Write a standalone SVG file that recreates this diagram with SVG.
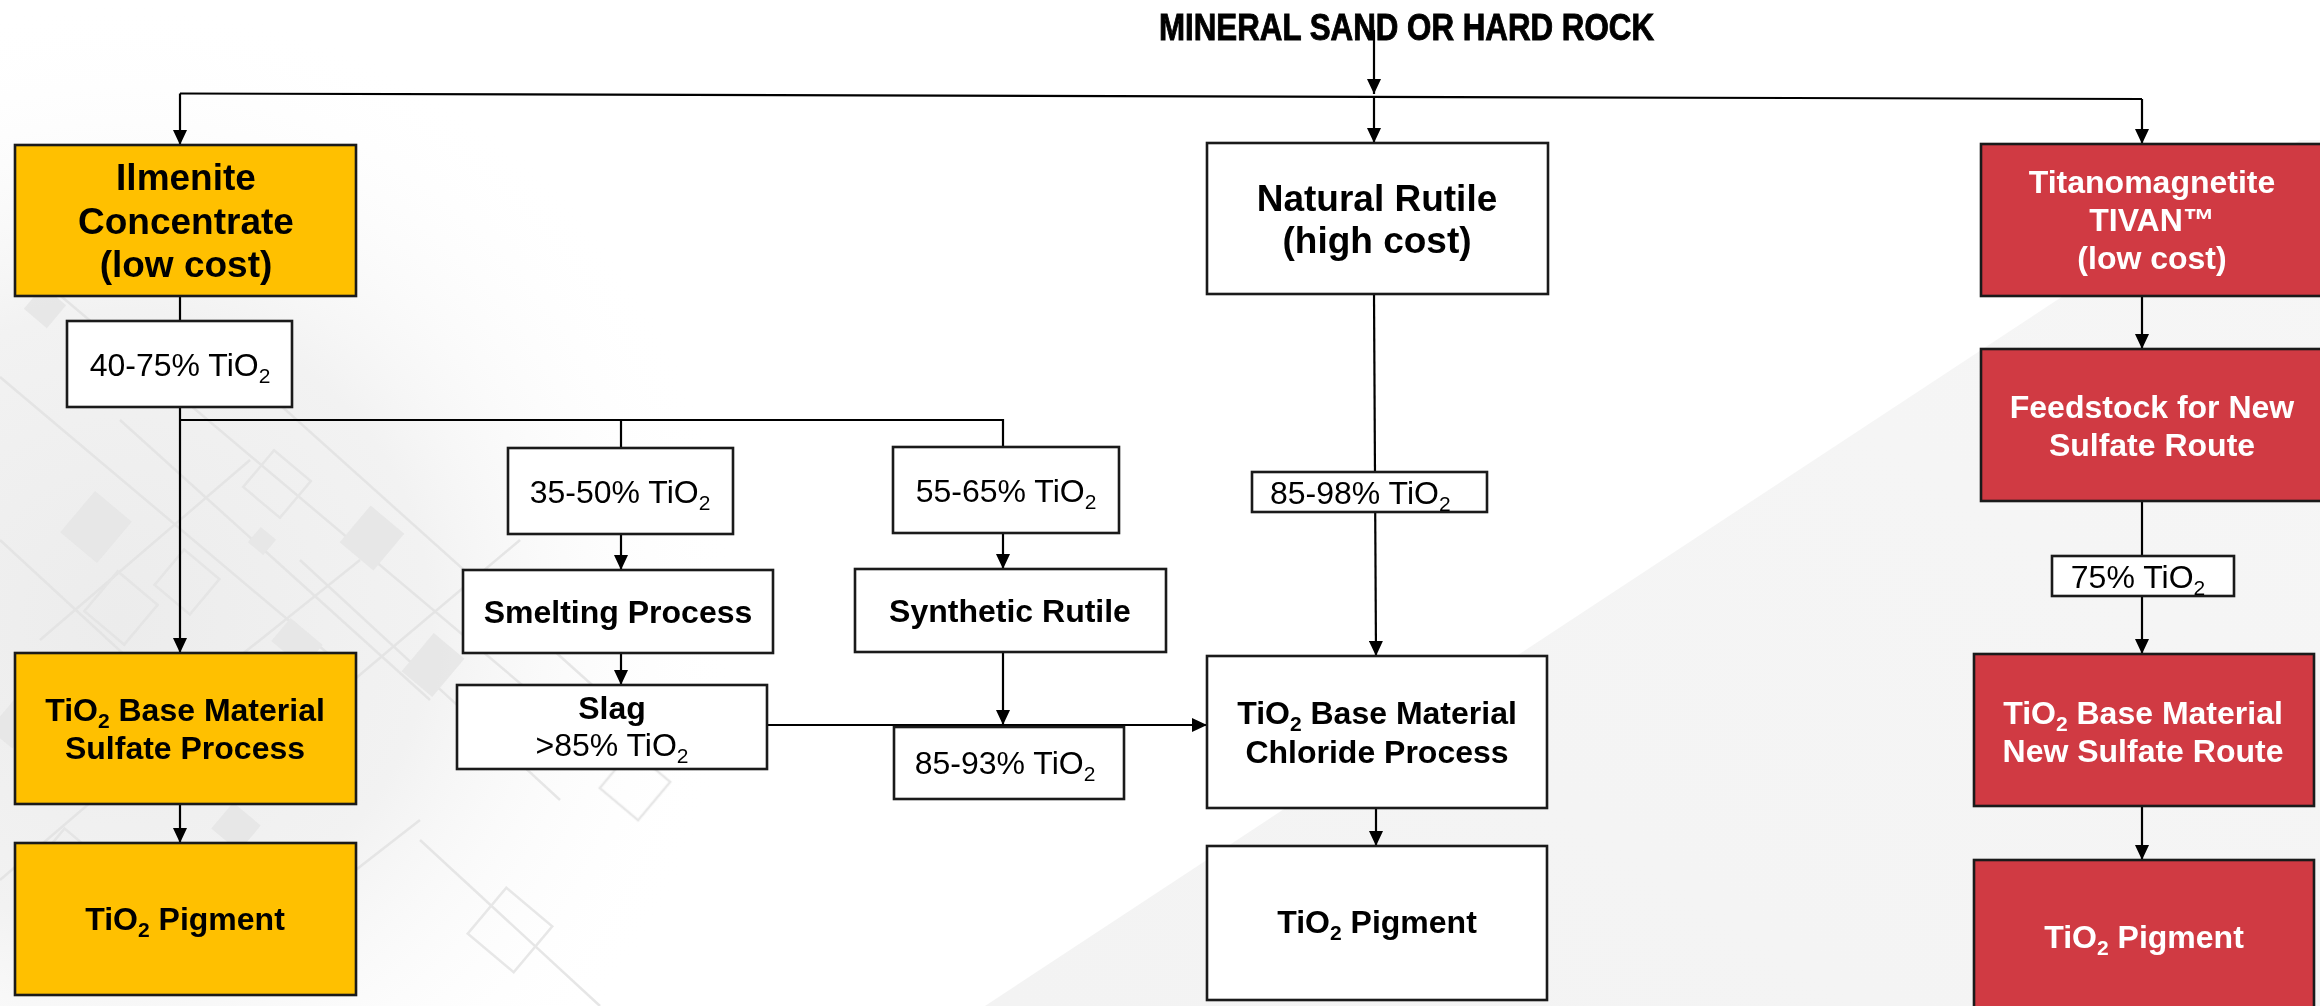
<svg xmlns="http://www.w3.org/2000/svg" width="2320" height="1006" viewBox="0 0 2320 1006">
  <defs>
    <style>
      text { font-family: "Liberation Sans", Arial, sans-serif; fill: #000; text-anchor: middle; }
      .big { font-size: 37px; font-weight: bold; }
      .bold { font-size: 32px; font-weight: bold; }
      .pct { font-size: 32px; }
      .white { fill: #fff; }
      .sub { font-size: 21px; }
      .box { stroke: #1a1a1a; stroke-width: 2.6; }
      .plain { fill: #fff; }
      .gold { fill: #FFC000; }
      .red { fill: #D03A43; }
      .wire { fill: none; stroke: #000; stroke-width: 2.2; }
      .arrow { fill: none; stroke: #000; stroke-width: 2.2; marker-end: url(#head); }
      .trace { fill: none; stroke: #e2e2e2; stroke-width: 2.5; }
      .pad { fill: none; stroke: #e3e3e3; stroke-width: 2.5; }
      .chip { fill: #e5e5e5; }
    </style>
    <marker id="head" viewBox="0 0 15 14" refX="15" refY="7" markerWidth="15" markerHeight="14" markerUnits="userSpaceOnUse" orient="auto">
      <path d="M0,0 L15,7 L0,14 z" fill="#000"/>
    </marker>
    <radialGradient id="leftHaze" gradientUnits="userSpaceOnUse" cx="120" cy="620" r="620">
      <stop offset="0" stop-color="#ececec"/>
      <stop offset="0.5" stop-color="#f2f2f2"/>
      <stop offset="1" stop-color="#ffffff" stop-opacity="0"/>
    </radialGradient>
    <linearGradient id="rightHaze" x1="0" y1="1" x2="1" y2="0">
      <stop offset="0" stop-color="#f3f3f3"/>
      <stop offset="1" stop-color="#f6f6f6"/>
    </linearGradient>
  </defs>

  <!-- page background with faint circuit-board decoration -->
  <g id="backdrop">
    <rect x="0" y="0" width="2320" height="1006" fill="#fff"/>
    <rect x="0" y="0" width="900" height="1006" fill="url(#leftHaze)"/>
    <polygon points="985,1006 2300,140 2320,140 2320,1006" fill="url(#rightHaze)"/>
    <g opacity="0.85">
      <line class="trace" x1="0" y1="377" x2="357" y2="678"/>
      <line class="trace" x1="30" y1="270" x2="540" y2="700"/>
      <line class="trace" x1="120" y1="420" x2="430" y2="700"/>
      <line class="trace" x1="230" y1="360" x2="620" y2="710"/>
      <line class="trace" x1="0" y1="540" x2="260" y2="780"/>
      <line class="trace" x1="300" y1="560" x2="560" y2="800"/>
      <line class="trace" x1="420" y1="840" x2="600" y2="1006"/>
      <line class="trace" x1="40" y1="640" x2="250" y2="460"/>
      <line class="trace" x1="160" y1="720" x2="360" y2="560"/>
      <line class="trace" x1="330" y1="700" x2="520" y2="540"/>
      <line class="trace" x1="0" y1="880" x2="140" y2="760"/>
      <line class="trace" x1="240" y1="960" x2="420" y2="820"/>
      <rect class="pad" x="253" y="460" width="48" height="48" transform="rotate(40 277 484)"/>
      <rect class="pad" x="95" y="582" width="52" height="52" transform="rotate(40 121 608)"/>
      <rect class="pad" x="164" y="559" width="46" height="46" transform="rotate(40 187 582)"/>
      <rect class="pad" x="480" y="900" width="60" height="60" transform="rotate(40 510 930)"/>
      <rect class="pad" x="40" y="840" width="56" height="56" transform="rotate(40 68 868)"/>
      <rect class="pad" x="610" y="760" width="50" height="50" transform="rotate(40 635 785)"/>
      <rect class="chip" x="72" y="500" width="48" height="54" transform="rotate(40 96 527)"/>
      <rect class="chip" x="350" y="514" width="44" height="48" transform="rotate(40 372 538)"/>
      <rect class="chip" x="252" y="531" width="20" height="20" transform="rotate(40 262 541)"/>
      <rect class="chip" x="276" y="628" width="42" height="30" transform="rotate(40 297 643)"/>
      <rect class="chip" x="413" y="640" width="40" height="50" transform="rotate(40 433 665)"/>
      <rect class="chip" x="218" y="810" width="36" height="34" transform="rotate(40 236 827)"/>
      <rect class="chip" x="30" y="292" width="30" height="30" transform="rotate(40 45 307)"/>
      <rect class="chip" x="0" y="700" width="30" height="44" transform="rotate(40 15 722)"/>
    </g>
  </g>

  <!-- title -->
  <text id="title" x="1159" y="40" style="text-anchor:start;font-size:36px;font-weight:bold;stroke:#000;stroke-width:0.9" textLength="495" lengthAdjust="spacingAndGlyphs">MINERAL SAND OR HARD ROCK</text>

  <!-- connectors -->
  <g id="connectors">
    <line class="arrow" x1="1374" y1="30" x2="1374" y2="94"/>
    <polyline class="wire" points="180,93.5 2142,99"/>
    <line class="arrow" x1="180" y1="93.5" x2="180" y2="145"/>
    <line class="arrow" x1="1374" y1="96" x2="1374" y2="143"/>
    <line class="arrow" x1="2142" y1="99" x2="2142" y2="144"/>

    <line class="wire" x1="180" y1="296" x2="180" y2="321"/>
    <line class="arrow" x1="180" y1="407" x2="180" y2="653"/>
    <polyline class="wire" points="180,420 1003,420 1003,447"/>
    <line class="wire" x1="621" y1="420" x2="621" y2="448"/>
    <line class="arrow" x1="180" y1="804" x2="180" y2="843"/>

    <line class="arrow" x1="621" y1="534" x2="621" y2="570"/>
    <line class="arrow" x1="621" y1="653" x2="621" y2="685"/>
    <line class="arrow" x1="767" y1="725" x2="1207" y2="725"/>

    <line class="arrow" x1="1003" y1="533" x2="1003" y2="569"/>
    <line class="arrow" x1="1003" y1="652" x2="1003" y2="725"/>

    <line class="arrow" x1="1374" y1="294" x2="1376" y2="656"/>
    <line class="arrow" x1="1376" y1="808" x2="1376" y2="846"/>

    <line class="arrow" x1="2142" y1="296" x2="2142" y2="349"/>
    <line class="wire" x1="2142" y1="501" x2="2142" y2="556"/>
    <line class="arrow" x1="2142" y1="596" x2="2142" y2="654"/>
    <line class="arrow" x1="2142" y1="806" x2="2142" y2="860"/>
  </g>

  <!-- ilmenite route -->
  <g id="ilmenite">
    <rect class="box gold" x="15" y="145" width="341" height="151"/>
    <text class="big" x="186" y="190">Ilmenite</text>
    <text class="big" x="186" y="234">Concentrate</text>
    <text class="big" x="186" y="277">(low cost)</text>
  </g>
  <g id="grade-40-75">
    <rect class="box plain" x="67" y="321" width="225" height="86"/>
    <text class="pct" x="180" y="376">40-75% TiO<tspan class="sub" dy="7">2</tspan></text>
  </g>
  <g id="sulfate-base">
    <rect class="box gold" x="15" y="653" width="341" height="151"/>
    <text class="bold" x="185" y="721">TiO<tspan class="sub" dy="7">2</tspan><tspan dy="-7"> Base Material</tspan></text>
    <text class="bold" x="185" y="759">Sulfate Process</text>
  </g>
  <g id="sulfate-pigment">
    <rect class="box gold" x="15" y="843" width="341" height="152"/>
    <text class="bold" x="185" y="930">TiO<tspan class="sub" dy="7">2</tspan><tspan dy="-7"> Pigment</tspan></text>
  </g>

  <!-- smelting branch -->
  <g id="grade-35-50">
    <rect class="box plain" x="508" y="448" width="225" height="86"/>
    <text class="pct" x="620" y="503">35-50% TiO<tspan class="sub" dy="7">2</tspan></text>
  </g>
  <g id="smelting">
    <rect class="box plain" x="463" y="570" width="310" height="83"/>
    <text class="bold" x="618" y="623">Smelting Process</text>
  </g>
  <g id="slag">
    <rect class="box plain" x="457" y="685" width="310" height="84"/>
    <text class="bold" x="612" y="719">Slag</text>
    <text class="pct" x="612" y="756">&gt;85% TiO<tspan class="sub" dy="7">2</tspan></text>
  </g>

  <!-- synthetic rutile branch -->
  <g id="grade-55-65">
    <rect class="box plain" x="893" y="447" width="226" height="86"/>
    <text class="pct" x="1006" y="502">55-65% TiO<tspan class="sub" dy="7">2</tspan></text>
  </g>
  <g id="synthetic-rutile">
    <rect class="box plain" x="855" y="569" width="311" height="83"/>
    <text class="bold" x="1010" y="622">Synthetic Rutile</text>
  </g>
  <g id="grade-85-93">
    <rect class="box plain" x="894" y="727" width="230" height="72"/>
    <text class="pct" x="1005" y="774">85-93% TiO<tspan class="sub" dy="7">2</tspan></text>
  </g>

  <!-- natural rutile route -->
  <g id="natural-rutile">
    <rect class="box plain" x="1207" y="143" width="341" height="151"/>
    <text class="big" x="1377" y="211">Natural Rutile</text>
    <text class="big" x="1377" y="253">(high cost)</text>
  </g>
  <g id="grade-85-98">
    <rect class="box plain" x="1252" y="472" width="235" height="40"/>
    <text class="pct" x="1270" y="504" style="text-anchor:start">85-98% TiO<tspan class="sub" dy="7">2</tspan></text>
  </g>
  <g id="chloride-base">
    <rect class="box plain" x="1207" y="656" width="340" height="152"/>
    <text class="bold" x="1377" y="724">TiO<tspan class="sub" dy="7">2</tspan><tspan dy="-7"> Base Material</tspan></text>
    <text class="bold" x="1377" y="763">Chloride Process</text>
  </g>
  <g id="chloride-pigment">
    <rect class="box plain" x="1207" y="846" width="340" height="154"/>
    <text class="bold" x="1377" y="933">TiO<tspan class="sub" dy="7">2</tspan><tspan dy="-7"> Pigment</tspan></text>
  </g>

  <!-- titanomagnetite route -->
  <g id="titanomagnetite">
    <rect class="box red" x="1981" y="144" width="342" height="152"/>
    <text class="bold white" x="2152" y="193">Titanomagnetite</text>
    <text class="bold white" x="2152" y="231">TIVAN™</text>
    <text class="bold white" x="2152" y="269">(low cost)</text>
  </g>
  <g id="feedstock">
    <rect class="box red" x="1981" y="349" width="342" height="152"/>
    <text class="bold white" x="2152" y="418">Feedstock for New</text>
    <text class="bold white" x="2152" y="456">Sulfate Route</text>
  </g>
  <g id="grade-75">
    <rect class="box plain" x="2052" y="556" width="182" height="40"/>
    <text class="pct" x="2138" y="588">75% TiO<tspan class="sub" dy="7">2</tspan></text>
  </g>
  <g id="new-sulfate-base">
    <rect class="box red" x="1974" y="654" width="340" height="152"/>
    <text class="bold white" x="2143" y="724">TiO<tspan class="sub" dy="7">2</tspan><tspan dy="-7"> Base Material</tspan></text>
    <text class="bold white" x="2143" y="762">New Sulfate Route</text>
  </g>
  <g id="new-sulfate-pigment">
    <rect class="box red" x="1974" y="860" width="340" height="160"/>
    <text class="bold white" x="2144" y="948">TiO<tspan class="sub" dy="7">2</tspan><tspan dy="-7"> Pigment</tspan></text>
  </g>
</svg>
